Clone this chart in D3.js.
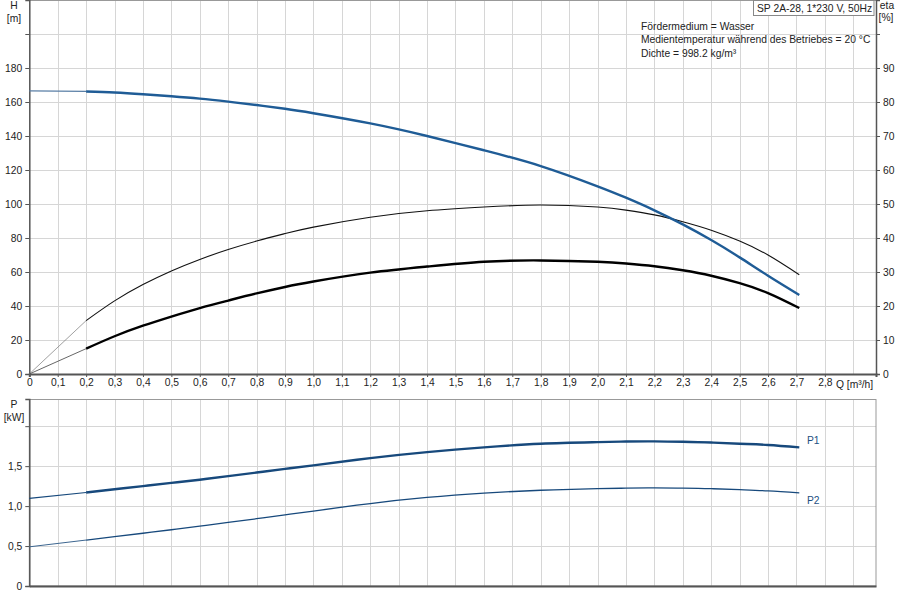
<!DOCTYPE html>
<meta charset="utf-8">
<style>
body { margin: 0; background: #fff; }
svg text { font-family: "Liberation Sans", Arial, sans-serif; font-size: 10.3px; fill: #222; }
.grid line { stroke: #d6d6d6; stroke-width: 1; }
.axis path, .axis line { stroke: #555; }
</style>
<script src="https://cdn.jsdelivr.net/npm/d3@7/dist/d3.min.js"></script>
<body>
<svg id="chart" width="900" height="600"></svg>
<script>
// flow points (m3/h) shared by all curves
var flow = [0, 0.2, 0.3, 0.4, 0.5, 0.6, 0.7, 0.8, 0.9, 1.0, 1.2, 1.4, 1.6, 1.8, 2.0, 2.1, 2.2, 2.3, 2.4, 2.5, 2.6, 2.71];
// head H [m]
var head = [166.6, 166.2, 165.6, 164.6, 163.4, 162.0, 160.2, 158.2, 156.0, 153.4, 147.4, 140.0, 131.6, 122.3, 110.4, 103.7, 96.3, 88.0, 78.8, 68.6, 57.8, 46.5];
// pump efficiency (thin) and total efficiency (thick) [%]
var etaPump = [0, 15.7, 21.5, 26.3, 30.3, 33.7, 36.6, 39.1, 41.3, 43.2, 46.1, 48.0, 49.1, 49.7, 49.1, 48.2, 46.8, 44.8, 42.3, 39.1, 35.0, 29.2];
var etaTotal = [0, 7.45, 11.1, 14.2, 16.9, 19.4, 21.6, 23.7, 25.6, 27.2, 29.8, 31.6, 33.0, 33.4, 33.0, 32.5, 31.7, 30.5, 28.9, 26.7, 23.8, 19.4];
// power [kW]
var powerP1 = [1.096, 1.17, 1.21, 1.25, 1.29, 1.33, 1.375, 1.42, 1.465, 1.51, 1.60, 1.675, 1.735, 1.78, 1.80, 1.808, 1.81, 1.805, 1.795, 1.78, 1.765, 1.735];
var powerP2 = [0.49, 0.575, 0.617, 0.66, 0.704, 0.749, 0.795, 0.842, 0.89, 0.938, 1.032, 1.108, 1.162, 1.198, 1.218, 1.224, 1.227, 1.225, 1.218, 1.205, 1.19, 1.165];

var qTicks = d3.range(0, 29).map(function(i) { return i / 10; });
var hTicks = [0, 20, 40, 60, 80, 100, 120, 140, 160, 180, 200];
var etaTicks = [0, 10, 20, 30, 40, 50, 60, 70, 80, 90, 100];
var pTicks = [0, 0.5, 1.0, 1.5, 2.0];
var infoLines = ["Fördermedium = Wasser", "Medientemperatur während des Betriebes = 20 °C", "Dichte = 998.2 kg/m³"];
var title = "SP 2A-28, 1*230 V, 50Hz";

var svg = d3.select("#chart");
var left = 29.3, right = 876;

var x = d3.scaleLinear().domain([0, 2.98]).range([left, right]);
var yH = d3.scaleLinear().domain([0, 220]).range([374, 0]);
var yEta = d3.scaleLinear().domain([0, 110]).range([374, 0]);
var yP = d3.scaleLinear().domain([0, 2.34]).range([586, 399]);

var fmt1 = function(d) { return d3.format(".1f")(d).replace(".", ","); };

function grid(yScale, yVals, top, bottom) {
    var g = svg.append("g").attr("class", "grid");
    g.selectAll(".v").data(d3.range(1, 30).map(function(i) { return i / 10; }))
        .enter().append("line")
        .attr("x1", function(d) { return Math.round(x(d)) + 0.5; })
        .attr("x2", function(d) { return Math.round(x(d)) + 0.5; })
        .attr("y1", top).attr("y2", bottom);
    g.selectAll(".h").data(yVals)
        .enter().append("line")
        .attr("x1", left).attr("x2", right)
        .attr("y1", function(d) { return Math.round(yScale(d)) + 0.5; })
        .attr("y2", function(d) { return Math.round(yScale(d)) + 0.5; });
}

function styleTicks() {
    svg.selectAll(".axis text").attr("font-size", 10.3).attr("fill", "#222")
        .attr("font-family", "'Liberation Sans', Arial, sans-serif");
}

// ---- top panel
grid(yH, hTicks.slice(1), 0, 374);
svg.append("line").attr("x1", left).attr("x2", right).attr("y1", 0.5).attr("y2", 0.5).attr("stroke", "#999");

var axH = svg.append("g").attr("class", "axis").attr("transform", "translate(" + left + ",0)")
    .call(d3.axisLeft(yH).tickValues(hTicks).tickSize(4).tickPadding(3)
        .tickFormat(function(d) { return d === 200 ? "" : d; }));
axH.select(".domain").attr("stroke-width", 1.5);

var axEta = svg.append("g").attr("class", "axis").attr("transform", "translate(" + right + ",0)")
    .call(d3.axisRight(yEta).tickValues(etaTicks).tickSize(4).tickPadding(3)
        .tickFormat(function(d) { return d === 100 ? "" : d; }));
axEta.select(".domain").attr("stroke-width", 1.5);

var axQ = svg.append("g").attr("class", "axis").attr("transform", "translate(0,374)")
    .call(d3.axisBottom(x).tickValues(qTicks).tickSize(3).tickPadding(2)
        .tickFormat(function(d) { return d === 0 ? "0" : fmt1(d); }));
axQ.select(".domain").attr("stroke-width", 2);
styleTicks();

svg.append("text").attr("x", 836).attr("y", 388).text("Q [m³/h]");
svg.append("text").attr("x", 14).attr("y", 9).attr("text-anchor", "middle").text("H");
svg.append("text").attr("x", 14).attr("y", 22).attr("text-anchor", "middle").text("[m]");
svg.append("text").attr("x", 887).attr("y", 9).attr("text-anchor", "middle").text("eta");
svg.append("text").attr("x", 886).attr("y", 21).attr("text-anchor", "middle").text("[%]");

svg.append("rect").attr("x", 753.5).attr("y", 0.5).attr("width", 120.5).attr("height", 15)
    .attr("fill", "#fff").attr("stroke", "#888");
svg.append("text").attr("x", 757).attr("y", 12).text(title);
svg.selectAll(".info").data(infoLines).enter().append("text")
    .attr("x", 641).attr("y", function(d, i) { return 30 + i * 13.3; }).text(function(d) { return d; });

// ---- curves
function pts(vals) { return flow.map(function(q, i) { return [q, vals[i]]; }); }

function drawCurve(vals, yScale, color, wide, thinWidth, thinColor) {
    var p = pts(vals);
    var line = d3.line().x(function(d) { return x(d[0]); }).y(function(d) { return yScale(d[1]); });
    svg.append("path").attr("d", line(p.slice(0, 2)))
        .attr("fill", "none").attr("stroke", thinColor).attr("stroke-width", thinWidth);
    svg.append("path").attr("d", line.curve(d3.curveNatural)(p.slice(1)))
        .attr("fill", "none").attr("stroke", color).attr("stroke-width", wide);
}

drawCurve(etaPump, yEta, "#111", 1.1, 0.7, "#777");
drawCurve(etaTotal, yEta, "#000", 2.4, 0.9, "#555");
drawCurve(head, yH, "#1f5c96", 2.4, 1.2, "#5a7fa6");

// ---- bottom panel
grid(yP, pTicks.slice(1), 399, 586);
svg.append("rect").attr("x", left).attr("y", 399.5).attr("width", right - left).attr("height", 186.5)
    .attr("fill", "none").attr("stroke", "#999");

var axP = svg.append("g").attr("class", "axis").attr("transform", "translate(" + left + ",0)")
    .call(d3.axisLeft(yP).tickValues(pTicks).tickSize(4).tickPadding(3)
        .tickFormat(function(d) { return d === 0 ? "0" : d === 2 ? "" : fmt1(d); }));
axP.select(".domain").attr("stroke-width", 1.5);
var axQ2 = svg.append("g").attr("class", "axis").attr("transform", "translate(0,586)")
    .call(d3.axisBottom(x).tickValues(qTicks).tickSize(0).tickFormat(""));
axQ2.select(".domain").attr("stroke-width", 2);
styleTicks();

svg.append("text").attr("x", 14).attr("y", 408).attr("text-anchor", "middle").text("P");
svg.append("text").attr("x", 14).attr("y", 421).attr("text-anchor", "middle").text("[kW]");

drawCurve(powerP1, yP, "#17497c", 2.4, 1.2, "#17497c");
drawCurve(powerP2, yP, "#17497c", 1.3, 1.0, "#3d6690");

svg.append("text").attr("x", 807).attr("y", 444).style("fill", "#1d4f82").text("P1");
svg.append("text").attr("x", 807).attr("y", 504).style("fill", "#1d4f82").text("P2");
</script>
</body>
